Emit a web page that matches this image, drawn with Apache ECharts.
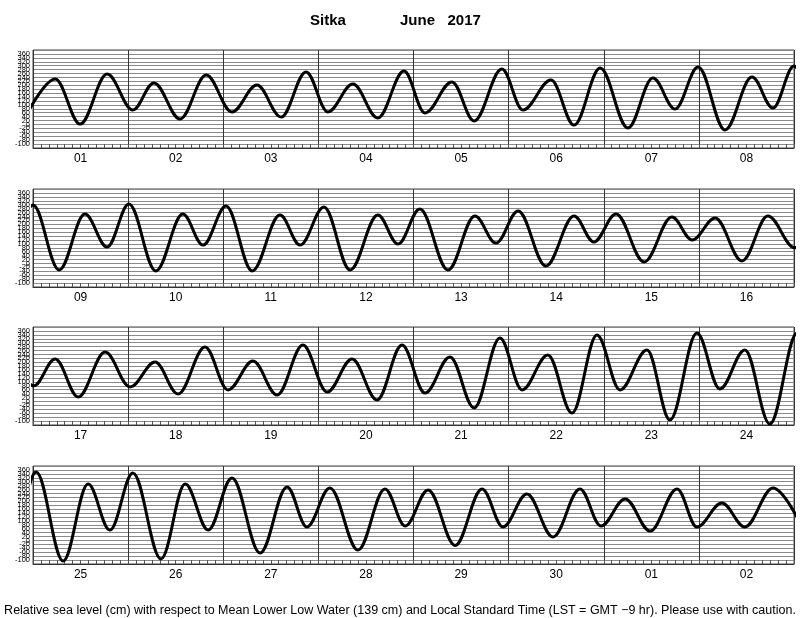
<!DOCTYPE html>
<html><head><meta charset="utf-8">
<script src="https://cdn.jsdelivr.net/npm/echarts@6/dist/echarts.min.js"></script>
<style>html,body{margin:0;padding:0;background:#fff}#c{width:800px;height:618px}</style>
</head><body><div id="c"></div>
<script>
// Tide extrema: hours since 2017-06-01 00:00 LST, level in cm (MLLW)
const extremaHours = [
 -0.8,5.6,11.9,18.7,25.2,30.5,37.1,43.7,50.2,56.5,62.6,68.9,74.4,80.7,87.0,93.6,98.9,105.7,111.3,118.3,123.6,130.7,136.5,143.1,150.1,156.4,162.0,167.8,174.6,181.4,186.7,
 192.0,198.6,205.1,210.7,216.2,223.0,229.8,234.9,240.7,247.3,254.3,259.4,265.4,272.0,279.0,284.1,289.6,296.7,303.5,308.8,314.4,321.4,328.5,333.5,339.1,346.2,353.2,358.3,364.1,370.9,377.4,
 384.2,389.6,395.4,402.2,408.5,414.8,420.6,427.4,433.2,439.5,445.6,452.1,458.2,464.5,470.8,477.1,482.9,489.2,495.3,501.8,507.4,513.9,520.0,526.3,532.1,538.9,544.7,551.5,557.3,563.6,569.9,
 576.8,583.6,589.9,595.4,601.2,608.3,614.4,620.2,626.2,633.3,640.1,645.1,650.9,658.0,664.8,669.9,675.7,682.5,689.3,694.6,700.6,707.2,714.0,719.3,725.4,731.7,738.5,743.5,749.8,755.6,762.7,770.0
];
const extremaLevels = [
 80,232,2,257,74,212,28,252,64,201,38,268,64,206,33,273,59,217,18,283,74,227,-3,288,-18,237,79,293,-28,242,84,
 298,-33,252,84,303,-38,252,94,293,-38,247,94,288,-33,247,99,278,-33,242,104,268,-13,242,110,252,8,237,120,232,13,242,
 80,217,23,252,74,201,38,278,59,206,33,288,48,217,8,288,43,227,-33,324,59,237,-59,339,59,263,-94,349,64,263,-115,
 349,-105,288,53,344,-94,288,53,319,-64,273,69,268,-49,263,74,258,-25,263,69,237,18,263,74,212,48,263,69,191,69,268,70
];
const dayLabels = [
 ['01','02','03','04','05','06','07','08'],
 ['09','10','11','12','13','14','15','16'],
 ['17','18','19','20','21','22','23','24'],
 ['25','26','27','28','29','30','01','02']
];
const yTickMin = -120, yTickMax = 380, yTickStep = 20;
const footerText = 'Relative sea level (cm) with respect to Mean Lower Low Water (139 cm) and Local Standard Time (LST = GMT \u22129 hr). Please use with caution.';

const tideData = extremaHours.map((h, i) => [h, extremaLevels[i]]);
const tops = [50, 189, 327, 466];
const FONT = 'Liberation Sans, Arial, Helvetica, sans-serif';
const grids = [], xAxes = [], yAxes = [], series = [];
tops.forEach((top, p) => {
  grids.push({left: 33, right: 6, top: top, height: 98, show: true, borderColor: '#444', borderWidth: 1, backgroundColor: 'transparent'});
  const mn = p * 192, mx = (p + 1) * 192;
  xAxes.push({type: 'value', gridIndex: p, min: mn, max: mx, interval: 2,
    axisLine: {show: true, onZero: false, lineStyle: {color: '#333', width: 1}},
    axisTick: {show: true, inside: true, length: 4, lineStyle: {color: '#555'}},
    axisLabel: {show: false}, splitLine: {show: false}});
  xAxes.push({type: 'value', gridIndex: p, min: mn, max: mx, interval: 24, position: 'bottom',
    axisLine: {show: false}, axisTick: {show: false}, axisLabel: {show: false},
    splitLine: {show: true, lineStyle: {color: '#333', width: 1}}});
  xAxes.push({type: 'category', gridIndex: p, data: dayLabels[p], boundaryGap: true, position: 'bottom',
    axisLine: {show: false}, axisTick: {show: false},
    axisLabel: {show: true, margin: 5, fontSize: 12, color: '#000', fontFamily: FONT},
    splitLine: {show: false}});
  yAxes.push({type: 'value', gridIndex: p, min: yTickMin, max: yTickMax, interval: yTickStep,
    axisLine: {show: false}, axisTick: {show: false},
    axisLabel: {show: true, fontSize: 7.5, margin: 3, color: '#000', fontFamily: FONT, hideOverlap: false},
    splitLine: {show: true, lineStyle: {color: '#8a8a8a', width: 1}}});
  series.push({type: 'line', xAxisIndex: p * 3, yAxisIndex: p, data: tideData, showSymbol: false,
    smooth: 0.36, smoothMonotone: 'x', clip: true,
    lineStyle: {color: '#000', width: 3}, silent: true, animation: false});
});

const chart = echarts.init(document.getElementById('c'), null, {renderer: 'canvas'});
chart.setOption({
  animation: false,
  backgroundColor: '#fff',
  title: [
    {text: 'Sitka', left: 305, top: 8, textStyle: {fontSize: 15, fontWeight: 'bold', color: '#000', fontFamily: FONT}},
    {text: 'June   2017', left: 395, top: 8, textStyle: {fontSize: 15, fontWeight: 'bold', color: '#000', fontFamily: FONT}},
    {text: footerText, left: 'center', top: 599, textStyle: {fontSize: 12.5, fontWeight: 'normal', color: '#000', fontFamily: FONT}}
  ],
  grid: grids, xAxis: xAxes, yAxis: yAxes, series: series
});
</script></body></html>
